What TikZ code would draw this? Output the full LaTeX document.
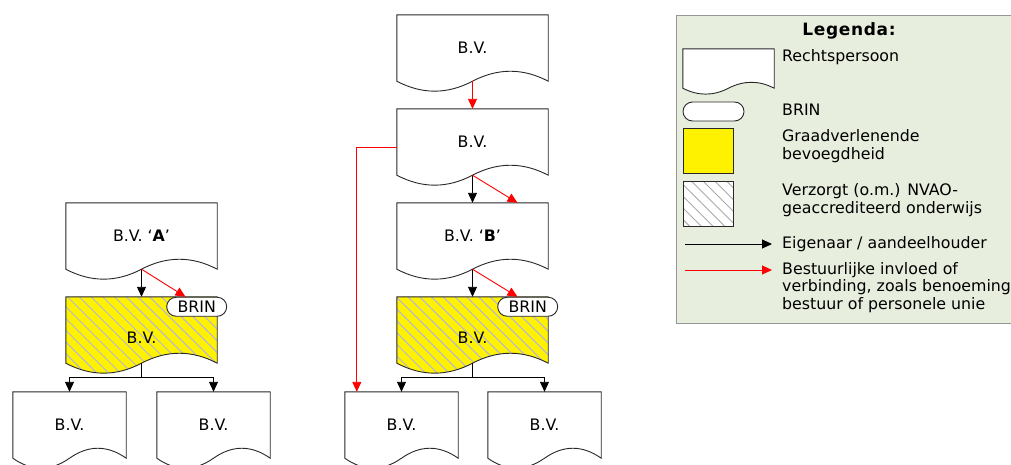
\documentclass[tikz,border=0pt]{standalone}
\usepackage{fontspec}
\setmainfont{DejaVu Sans}
\usetikzlibrary{arrows.meta,calc,shapes.misc,patterns.meta}
\pgfdeclarelayer{bgzero}
\pgfdeclarelayer{bgone}
\pgfsetlayers{bgzero,bgone,main}
\definecolor{lgfill}{RGB}{232,238,222}
\definecolor{lgedge}{RGB}{150,150,150}
\definecolor{hatchc}{RGB}{180,180,225}
\definecolor{hatchg}{RGB}{170,170,170}
\definecolor{edgec}{RGB}{40,40,40}
\newcommand\docshape[2]{%
 \begin{pgfonlayer}{bgone}
 \path[#2] let \p1=(#1.north west), \p2=(#1.south east), \n1={\x2-\x1}, \n2={0.2*(\y1-\y2)} in
  (\p1) -- (\x2,\y1) -- (\p2) .. controls ({\x2-\n1/6},{\y2+\n2}) and ({\x2-\n1/3},{\y2+\n2}) .. ({\x1+\n1/2},\y2) .. controls ({\x1+\n1/3},{\y2-\n2}) and ({\x1+\n1/6},{\y2-\n2}) .. (\x1,\y2) -- cycle;
 \end{pgfonlayer}}
\tikzset{
  bvfont/.style={font=\fontsize{15.8}{17.5}\selectfont},
  box/.style={rectangle, inner sep=0pt, minimum width=151pt, minimum height=66pt, bvfont},
  smallbox/.style={box, minimum width=113pt},
  docline/.style={draw=edgec, line width=0.9pt, fill=white},
  yeldoc/.style={draw=edgec, line width=0.9pt, preaction={fill=yellow},
     pattern={Lines[angle=-45, distance=8.3pt, line width=1pt]}, pattern color=hatchc},
  pill/.style={rounded rectangle, draw=edgec, fill=white, inner sep=0pt, minimum width=60pt, minimum height=19pt, line width=0.9pt, bvfont},
  arr/.style={-{Triangle[length=10pt,width=9pt]}, line width=0.9pt, black},
  redarr/.style={-{Triangle[length=10pt,width=9pt]}, line width=0.9pt, red},
  lt/.style={anchor=west, align=left, inner sep=0pt, bvfont},
}
\begin{document}
\begin{tikzpicture}[x=1pt,y=-1pt]
\useasboundingbox (0,0) rectangle (1011,464);
% ---------- middle column ----------
\node[box] (top) at (472.5,48) {B.V.};
\node[box] (b2) at (472.5,142) {B.V.};
\node[box] (bB) at (472.5,236) {B.V. ‘\textbf{B}’};
\node[box] (yB) at (472.5,330) {};
\node[bvfont] (yBt) at ($(yB.center)+(0,8)$) {B.V.};
\node[pill, anchor=north east] (brinB) at (yB.north east) {BRIN};
\node[smallbox] (mL) at (401.5,425) {B.V.};
\node[smallbox] (mR) at (544.5,425) {B.V.};
\docshape{top}{docline}
\docshape{b2}{docline}
\docshape{bB}{docline}
\docshape{yB}{yeldoc}
\docshape{mL}{docline}
\docshape{mR}{docline}
% ---------- left column ----------
\node[box] (A) at (141.5,236) {B.V. ‘\textbf{A}’};
\node[box] (yA) at (141.5,330) {};
\node[bvfont] (yAt) at ($(yA.center)+(0,8)$) {B.V.};
\node[pill, anchor=north east] (brinA) at (yA.north east) {BRIN};
\node[smallbox] (lL) at (69.5,425) {B.V.};
\node[smallbox] (lR) at (213.5,425) {B.V.};
\docshape{A}{docline}
\docshape{yA}{yeldoc}
\docshape{lL}{docline}
\docshape{lR}{docline}
% ---------- connectors ----------
\draw[redarr] (top.south) -- (b2.north);
\draw[arr] (b2.south) -- (bB.north);
\draw[redarr] (b2.south) -- ($(bB.north)+(45,0)$);
\draw[redarr] ([yshift=-5pt]b2.west) -| ($(mL.north west)+(12,0)$);
\draw[arr] (bB.south) -- (yB.north);
\draw[redarr] (bB.south) -- ($(yB.north)+(45,0)$);
\draw[arr] (yB.south) -- ++(0,14) -| (mL.north);
\draw[arr] (yB.south) -- ++(0,14) -| (mR.north);
\draw[arr] (A.south) -- (yA.north);
\draw[redarr] (A.south) -- ($(yA.north)+(44,0)$);
\draw[arr] (yA.south) -- ++(0,14) -| (lL.north);
\draw[arr] (yA.south) -- ++(0,14) -| (lR.north);
% ---------- legend ----------
\begin{pgfonlayer}{bgzero}
\node[draw=lgedge, fill=lgfill, line width=1pt, anchor=north west, minimum width=354pt, minimum height=308pt, inner sep=0pt] (legend) at (676,15) {};
\end{pgfonlayer}
\node[font=\fontsize{17}{20}\selectfont\bfseries\addfontfeature{LetterSpace=4}] (ltitle) at (849,31) {Legenda:};
\node[rectangle, inner sep=0pt, minimum width=91pt, minimum height=39pt] (ldoc) at (728.5,68.5) {};
\docshape{ldoc}{docline}
\node[pill, minimum width=61pt] (lpill) at (713.5,111.5) {};
\node[draw=edgec, fill=yellow, line width=0.9pt, minimum width=50pt, minimum height=45pt, inner sep=0pt] (lyel) at (708,150.5) {};
\node[draw=edgec, line width=0.9pt, preaction={fill=white}, pattern={Lines[angle=-45, distance=8.3pt, line width=1pt]}, pattern color=hatchg, minimum width=50pt, minimum height=45pt, inner sep=0pt] (lhat) at (708,203.5) {};
\coordinate (ba1) at (685,244);
\coordinate (ba2) at (772,244);
\draw[arr] (ba1) -- (ba2);
\coordinate (ra1) at (685,270);
\coordinate (ra2) at (772,270);
\draw[redarr] (ra1) -- (ra2);
\node[lt] (t1) at (782,57) {Rechtspersoon};
\node[lt] (t2) at (782,110) {BRIN};
\node[lt] (t3) at (782,146) {Graadverlenende\\bevoegdheid};
\node[lt] (t4) at (782,200) {Verzorgt (o.m.) NVAO-\\geaccrediteerd onderwijs};
\node[lt] (t5) at (782,244) {Eigenaar / aandeelhouder};
\node[lt] (t6) at (782,287.5) {Bestuurlijke invloed of\\verbinding, zoals benoeming\\bestuur of personele unie};
\end{tikzpicture}
\end{document}
